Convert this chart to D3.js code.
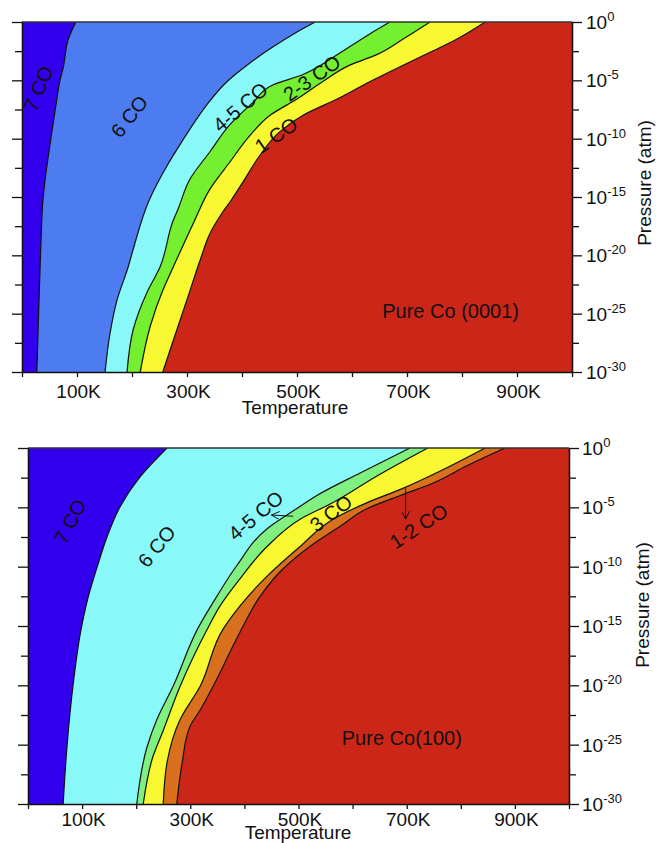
<!DOCTYPE html>
<html><head><meta charset="utf-8">
<script src="https://cdn.jsdelivr.net/npm/d3@7"></script>
<style>body{margin:0;background:#fff}svg{display:block}text{font-family:"Liberation Sans",Arial,sans-serif;fill:#111}</style>
</head><body><svg id="c" width="656" height="843"></svg>
<script>
// ---------- data ----------
const xTickValues = [0,100,200,300,400,500,600,700,800,900,1000];
const xLabelValues = [100,300,500,700,900];
const xTickLabels = ["100K","300K","500K","700K","900K"];
const yMajorExps = [0,-5,-10,-15,-20,-25,-30];
const yMinorExps = [-2.5,-7.5,-12.5,-17.5,-22.5,-27.5];

// boundaries: [log10 P, T (K)]
const top76  = [[0,98],[-1.5,84],[-3.9,75],[-5,69],[-6.7,63],[-9.5,54],[-15.3,38],[-19.5,34],[-23.8,31],[-30,27]];
const top645 = [[0,533],[-0.86,500],[-2.3,451],[-3.7,409],[-5.1,373],[-7.1,336],[-9.2,305],[-10.9,282],[-12.3,264],[-15.3,231],[-19.5,202],[-21,193],[-23.8,173],[-26.7,160],[-30,151]];
const top4523 = [[0,669],[-1.0,633],[-2.8,573],[-4.5,511],[-5.4,456],[-6.9,420],[-8.8,378],[-11.1,342],[-13.5,305],[-16.0,284],[-17,275],[-21,251],[-23.2,227],[-26.4,202],[-30,191]];
const top231 = [[0,742],[-1.46,693],[-2.8,645],[-3.7,596],[-5.1,547],[-6.6,500],[-8.0,451],[-9.7,415],[-12.0,378],[-14.3,342],[-17.2,312],[-21,275],[-23,256],[-26.1,233],[-30,215]];
const top1R = [[0,842],[-1.46,791],[-2.6,742],[-3.7,693],[-5.1,633],[-6.6,573],[-8.0,511],[-9.4,469],[-11.4,433],[-13.7,402],[-15.3,380],[-16.5,362],[-18.1,342],[-20.4,324],[-23.8,300],[-27.3,275],[-30,256]];

const bot76  = [[0,257],[-2.44,207],[-4.97,170],[-7.5,146],[-10,128],[-12.6,111],[-15.3,98],[-20.1,83],[-25.2,72],[-30,65]];
const bot645 = [[0,706],[-2.1,614],[-4.0,534],[-5.1,497],[-6.8,442],[-9.9,386],[-12.5,349],[-15.2,314],[-20.1,268],[-22.9,238],[-25.2,220],[-30,201]];
const bot453 = [[0,739],[-2.36,645],[-4.6,564],[-6.0,503],[-8.3,442],[-11,392],[-13.3,355],[-15.3,331],[-20.1,281],[-23.8,250],[-26,231],[-30,213]];
const bot312 = [[0,845],[-1.94,762],[-3.4,693],[-4.6,627],[-6.0,564],[-8.3,503],[-10.8,442],[-13.3,392],[-15.3,360],[-20.1,318],[-22.9,281],[-26.5,257],[-30,250]];
const bot12R = [[0,882],[-1.5,811],[-2.95,749],[-4.0,688],[-5.1,627],[-6.6,577],[-8.3,521],[-10.2,471],[-12.5,429],[-15.5,392],[-20.1,342],[-22.1,318],[-23.5,299],[-26.5,285],[-30,275]];

const topColors = ["#3300ee","#4c7cf0","#88f8f8","#74f030","#f8f832"]; // left of each boundary
const botColors = ["#3300ee","#88f8f8","#80f080","#f8f832","#d8701e"];
const baseColor = "#cc2619";

const topLabels = [
  {t:"7 CO", T:30, lp:-5.7, a:-68},
  {t:"6 CO", T:195, lp:-8.1, a:-52},
  {t:"4-5 CO", T:397, lp:-7.3, a:-40},
  {t:"2-3 CO", T:527, lp:-4.8, a:-35},
  {t:"1 CO", T:462, lp:-9.7, a:-35}
];
const botLabels = [
  {t:"7 CO", T:78, lp:-6.2, a:-63},
  {t:"6 CO", T:238, lp:-8.3, a:-51},
  {t:"4-5 CO", T:421, lp:-5.7, a:-40},
  {t:"3 CO", T:560, lp:-5.5, a:-37},
  {t:"1-2 CO", T:722, lp:-6.6, a:-33}
];

const svg = d3.select("#c");

function drawPanel(cfg){
  const x = d3.scaleLinear().domain([0,1000]).range([cfg.left,cfg.right]);
  const y = d3.scaleLinear().domain([0,-30]).range([cfg.top,cfg.bottom]);
  const g = svg.append("g");
  const cid = "clip"+cfg.id;
  g.append("clipPath").attr("id",cid).append("rect")
    .attr("x",cfg.left).attr("y",cfg.top).attr("width",cfg.right-cfg.left).attr("height",cfg.bottom-cfg.top);
  const p = g.append("g").attr("clip-path",`url(#${cid})`);
  p.append("rect").attr("x",cfg.left).attr("y",cfg.top).attr("width",cfg.right-cfg.left).attr("height",cfg.bottom-cfg.top).attr("fill",baseColor);
  const area = d3.area().y(d=>y(d[0])).x0(x(0)).x1(d=>x(d[1])).curve(d3.curveMonotoneY);
  const line = d3.line().y(d=>y(d[0])).x(d=>x(d[1])).curve(d3.curveMonotoneY);
  for(let i=cfg.bounds.length-1;i>=0;i--){
    p.append("path").attr("d",area(cfg.bounds[i])).attr("fill",cfg.colors[i]);
  }
  cfg.bounds.forEach(b=>p.append("path").attr("d",line(b)).attr("fill","none").attr("stroke","#111").attr("stroke-width",1.2));

  // labels inside
  cfg.labels.forEach(l=>{
    p.append("text").attr("transform",`translate(${x(l.T)},${y(l.lp)}) rotate(${l.a})`)
      .attr("text-anchor","middle").attr("dominant-baseline","central").attr("font-size",20).text(l.t);
  });
  g.append("text").attr("x",x(cfg.pure.T)).attr("y",y(cfg.pure.lp)).attr("font-size",20).text(cfg.pure.t);

  // top border
  g.append("line").attr("x1",cfg.left).attr("x2",cfg.right).attr("y1",cfg.top).attr("y2",cfg.top).attr("stroke","#333").attr("stroke-width",1.3);

  // x axis
  const labMap = new Map(xLabelValues.map((v,i)=>[v,xTickLabels[i]]));
  const xa = g.append("g").attr("transform",`translate(0,${cfg.bottom})`)
    .call(d3.axisBottom(x).tickValues(xTickValues).tickSize(5).tickSizeOuter(0).tickPadding(cfg.xPad).tickFormat(d=>labMap.get(d)||""));
  xa.selectAll("text").attr("font-size",19).attr("font-family","Liberation Sans, Arial, sans-serif").attr("fill","#111").attr("dx",1);
  xa.selectAll("line,path").attr("stroke","#111").attr("stroke-width",1.3);

  // left axis
  const la = g.append("g").attr("transform",`translate(${cfg.left},0)`);
  la.call(d3.axisLeft(y).tickValues(yMajorExps).tickSize(10).tickSizeOuter(0).tickFormat(""));
  la.append("g").call(d3.axisLeft(y).tickValues(yMinorExps).tickSize(7).tickSizeOuter(0).tickFormat(""));
  la.selectAll("line,path").attr("stroke","#111").attr("stroke-width",1.3);

  // right axis
  const ra = g.append("g").attr("transform",`translate(${cfg.right},0)`);
  ra.call(d3.axisRight(y).tickValues(yMajorExps).tickSize(10).tickSizeOuter(0).tickFormat(""));
  ra.append("g").call(d3.axisRight(y).tickValues(yMinorExps).tickSize(7).tickSizeOuter(0).tickFormat(""));
  ra.selectAll("line,path").attr("stroke","#111").attr("stroke-width",1.3);
  yMajorExps.forEach(e=>{
    const t = g.append("text").attr("x",cfg.right+cfg.yLabDx).attr("y",y(e)+7).attr("font-size",19);
    t.append("tspan").text("10");
    t.append("tspan").attr("dy",-8).attr("font-size",13).text(String(e));
  });

  // axis titles
  g.append("text").attr("x",cfg.tempX).attr("y",cfg.tempY).attr("text-anchor","middle").attr("font-size",19).text("Temperature");
  g.append("text").attr("transform",`translate(${cfg.presX},${cfg.presY}) rotate(-90)`).attr("text-anchor","middle").attr("font-size",19).text("Pressure (atm)");
  return {x,y,g};
}

drawPanel({id:"a",left:22,right:572,top:22,bottom:372,bounds:[top76,top645,top4523,top231,top1R],colors:topColors,
  labels:topLabels,pure:{t:"Pure Co (0001)",T:655,lp:-25.4},xPad:8,yLabDx:14,tempX:295,tempY:414,presX:651,presY:183});
const b = drawPanel({id:"b",left:28,right:569,top:448,bottom:804,bounds:[bot76,bot645,bot453,bot312,bot12R],colors:botColors,
  labels:botLabels,pure:{t:"Pure Co(100)",T:580,lp:-25},xPad:4,yLabDx:13,tempX:298,tempY:839,presX:649,presY:605});

// arrows in bottom panel
const defs = svg.append("defs");
defs.append("marker").attr("id","ah").attr("viewBox","0 0 10 10").attr("refX",10).attr("refY",5)
  .attr("markerWidth",8).attr("markerHeight",8).attr("orient","auto-start-reverse").attr("markerUnits","userSpaceOnUse")
  .append("path").attr("d","M0,0L10,5L0,10").attr("fill","none").attr("stroke","#111").attr("stroke-width",1.2);
b.g.append("line").attr("x1",b.x(490)).attr("y1",b.y(-5.75)).attr("x2",b.x(450)).attr("y2",b.y(-5.65))
  .attr("stroke","#111").attr("stroke-width",1).attr("marker-end","url(#ah)");
b.g.append("line").attr("x1",b.x(698)).attr("y1",b.y(-3.4)).attr("x2",b.x(698)).attr("y2",b.y(-6.0))
  .attr("stroke","#111").attr("stroke-width",1).attr("marker-end","url(#ah)");
</script></body></html>
